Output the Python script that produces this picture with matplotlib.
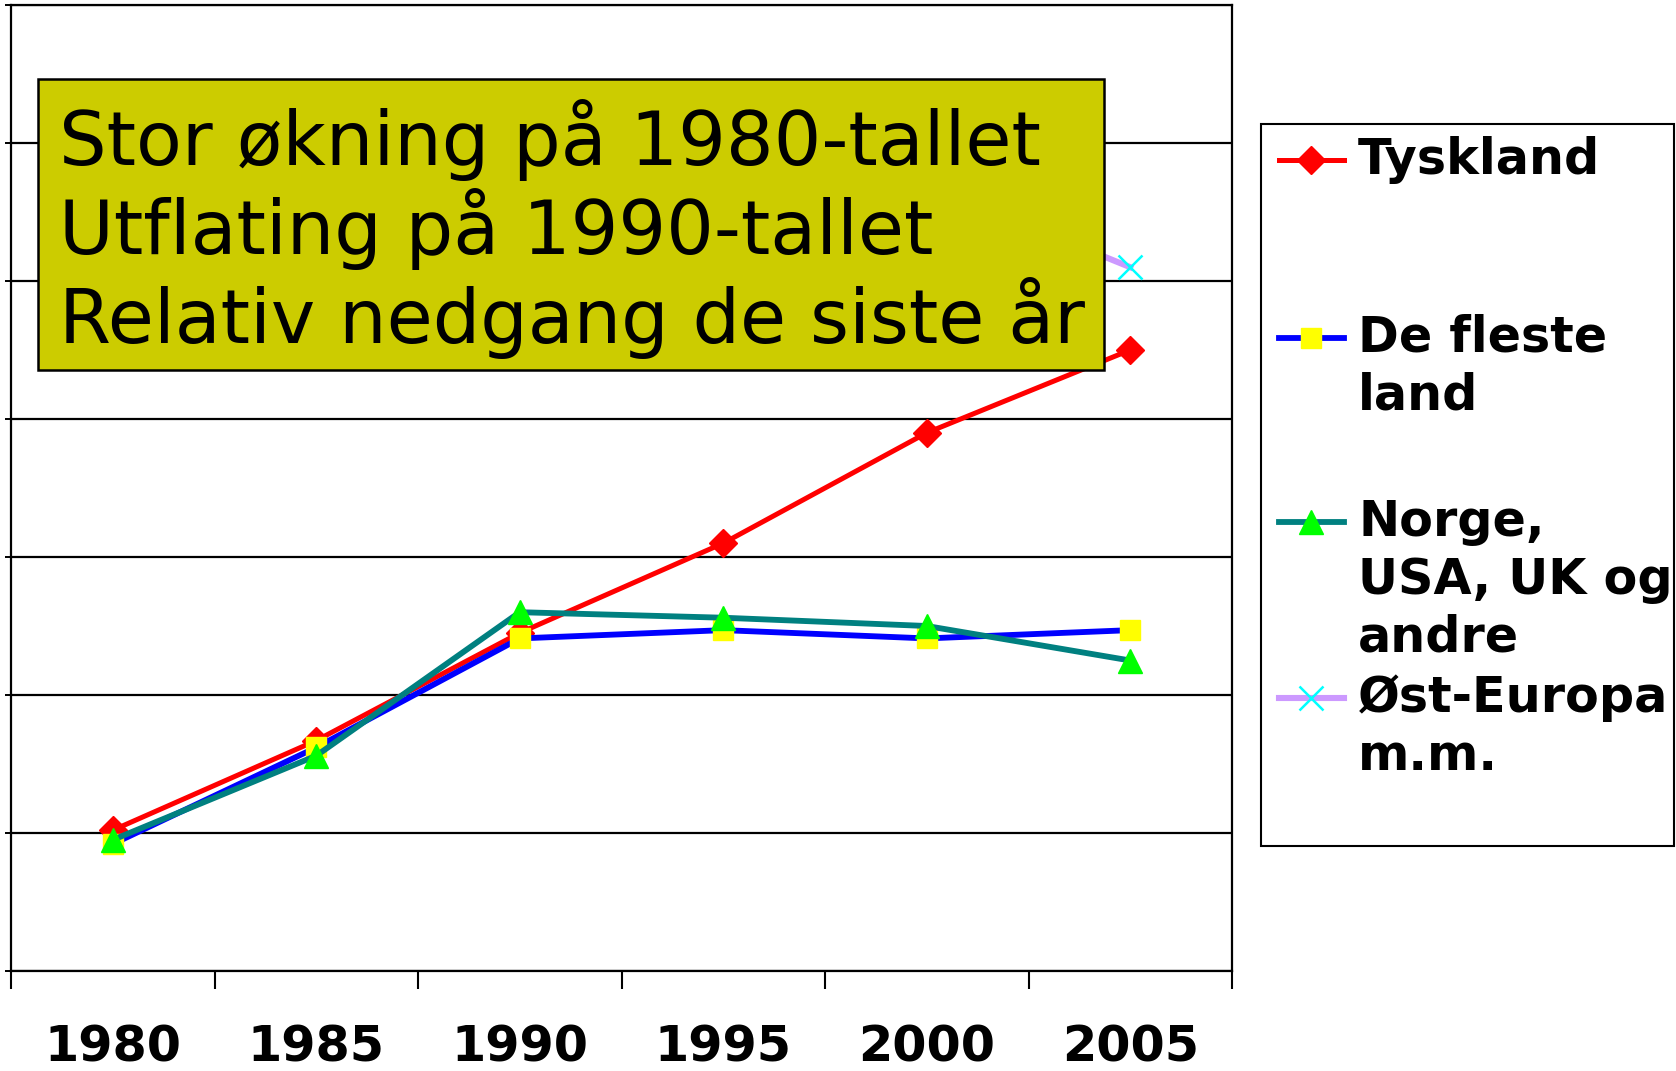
import numpy as np
import matplotlib
matplotlib.use("Agg")
import matplotlib.pyplot as plt
from matplotlib.patches import Rectangle
from matplotlib.lines import Line2D

W, H = 1676, 1071

years = ["1980", "1985", "1990", "1995", "2000", "2005"]
tyskland = [1.02, 1.67, 2.45, 3.10, 3.90, 4.50]
de_fleste = [0.92, 1.62, 2.41, 2.47, 2.41, 2.47]
norge = [0.95, 1.56, 2.60, 2.56, 2.50, 2.25]
ost_europa = [np.nan, np.nan, np.nan, np.nan, 5.70, 5.10]

series_names = ["Tyskland", "De fleste\nland", "Norge,\nUSA, UK og\nandre", "Øst-Europa\nm.m."]
note_lines = ["Stor økning på 1980-tallet",
              "Utflating på 1990-tallet",
              "Relativ nedgang de siste år"]

styles = [
    dict(color="#ff0000", lw=3.6, marker="D", ms=14, mfc="#ff0000", mec="#ff0000"),
    dict(color="#0000ff", lw=4.2, marker="s", ms=15, mfc="#ffff00", mec="#ffff00"),
    dict(color="#008080", lw=4.2, marker="^", ms=17, mfc="#00ff00", mec="#00ff00"),
    dict(color="#cc99ff", lw=4.4, marker="x", ms=17, mfc="#00ffff", mec="#00ffff", mew=1.8),
]


def fx(x):
    return x / W


def fy(y):
    return 1 - y / H


fig = plt.figure(figsize=(W / 100, H / 100), dpi=100)
ax = fig.add_axes([fx(11), fy(971), fx(1232) - fx(11), fy(5) - fy(971)])

x = np.arange(len(years))
for vals, st in zip([tyskland, de_fleste, norge, ost_europa], styles):
    ax.plot(x, vals, **st, zorder=3)

ax.set_xlim(-0.5, len(years) - 0.5)
ax.set_ylim(0, 7)
ax.set_yticks(np.arange(0, 8))
ax.set_yticklabels([])
ax.tick_params(axis="y", length=4, width=1.4, direction="out")
ax.grid(axis="y", color="black", lw=1.6)
ax.set_axisbelow(True)

ax.set_xticks(x)
ax.set_xticklabels(years, fontsize=35.5, fontweight="bold")
ax.tick_params(axis="x", which="major", length=0, pad=38)
ax.set_xticks(np.arange(len(years) + 1) - 0.5, minor=True)
ax.tick_params(axis="x", which="minor", length=13, width=1.5, direction="out")
for s in ax.spines.values():
    s.set_linewidth(1.6)

# note box
fig.add_artist(Rectangle((fx(38), fy(370)), fx(1104) - fx(38), fy(79) - fy(370),
                         transform=fig.transFigure, facecolor="#cccc00",
                         edgecolor="black", lw=1.8, zorder=5))
for i, line in enumerate(note_lines):
    fig.text(fx(59), fy(140 + i * 89), line, fontsize=54, va="center", ha="left", zorder=6)

# legend
fig.add_artist(Rectangle((fx(1261), fy(846)), fx(1674) - fx(1261), fy(124) - fy(846),
                         transform=fig.transFigure, facecolor="white",
                         edgecolor="black", lw=1.5, zorder=5))
row_y = [160, 338, 522, 698]
for name, st, y0 in zip(series_names, styles, row_y):
    fig.add_artist(Line2D([fx(1279), fx(1344)], [fy(y0), fy(y0)], transform=fig.transFigure,
                          color=st["color"], lw=st["lw"], zorder=6))
    fig.add_artist(Line2D([fx(1311)], [fy(y0)], transform=fig.transFigure, linestyle="none",
                          marker=st["marker"], ms=st["ms"], mfc=st["mfc"], mec=st["mec"],
                          mew=st.get("mew", 1), zorder=7))
    for j, part in enumerate(name.split("\n")):
        fig.text(fx(1358), fy(y0 + j * 57.7), part, fontsize=35.5, fontweight="bold",
                 va="center", ha="left", zorder=7)

fig.savefig("out.png", dpi=100)
